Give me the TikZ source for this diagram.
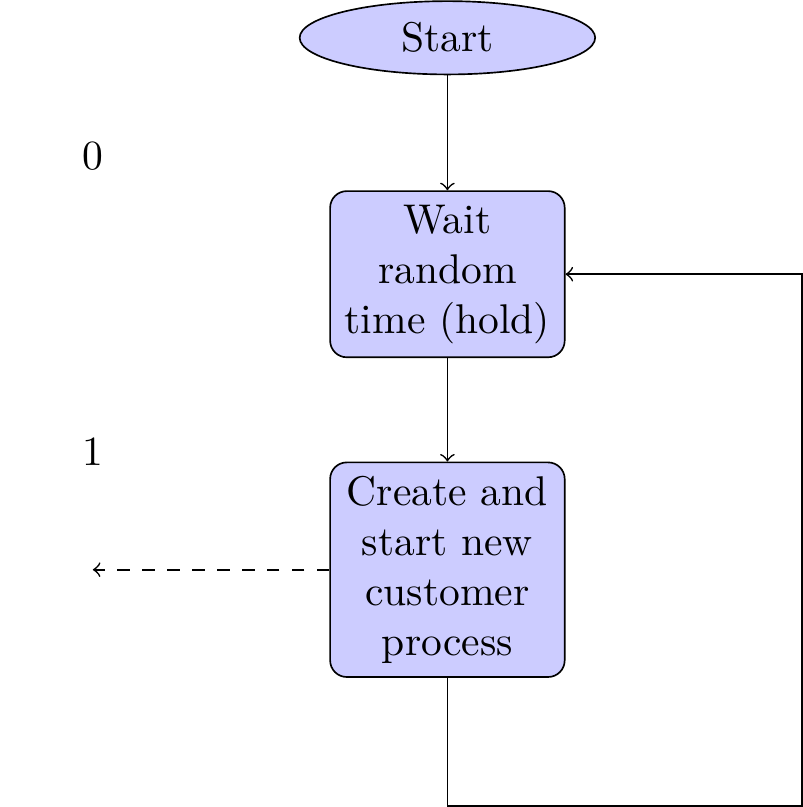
\documentclass[tikz,border=0pt]{standalone}
\usepackage{tikz}
\usetikzlibrary{positioning}
\usetikzlibrary{arrows}
\usetikzlibrary{shapes.geometric}
\tikzset {
  node distance={2cm},
  % start of the flow
  terminal/.style = {draw, ellipse, fill=blue!20, minimum width=2.5cm, minimum height=0.62cm, inner sep=1pt},
  % process boxes
  process/.style = {draw, rectangle, rounded corners, fill=blue!20, text width=1.75cm, align=center},
  % lines between the boxes
  flow/.style = {->},
}

\begin{document}
\begin{tikzpicture}
  \useasboundingbox (-107.7pt,9.1pt) rectangle (85.56pt,-185.16pt);
  \node[terminal] (start) {Start};
  \node[process] (wait) [below of=start] {Wait random time (hold)};
  \node[process] (create) [below of=wait, node distance=2.5cm] {Create and start new customer process};
  \node (zero) at (-3,-1) {0};
  \node (one) at (-3,-3.5) {1};
  \coordinate (back) at (3,-6.5);

  \draw [flow] (start) -- (wait);
  \draw [flow] (wait) -- (create);
  \draw [flow, dashed] (create.west) -- (create.west -| one);
  \draw [flow] (create.south) |- (back) |- (wait.east);
\end{tikzpicture}
\end{document}
